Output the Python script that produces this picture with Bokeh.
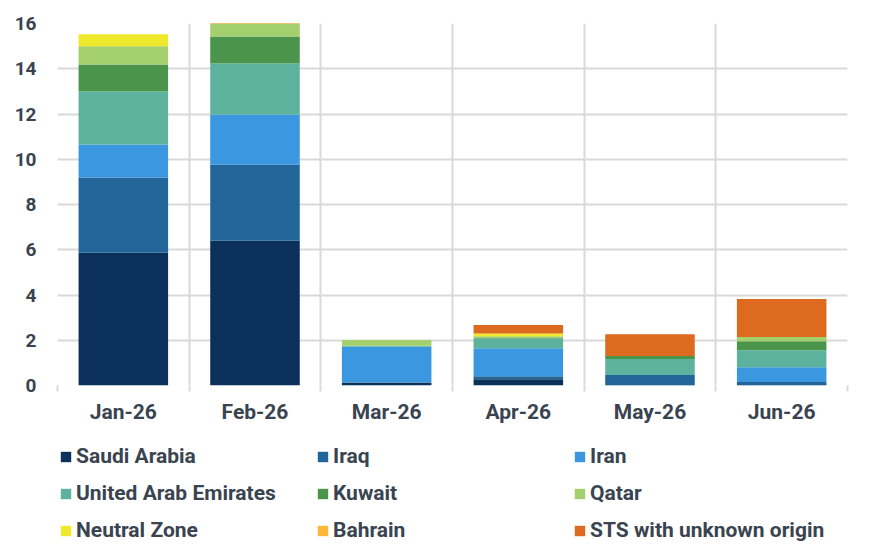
from bokeh.plotting import figure
from bokeh.layouts import column
from bokeh.models import (Range1d, LinearAxis, FixedTicker, Legend, LegendItem,
                          ColumnDataSource)
from bokeh.embed import file_html
from bokeh.resources import INLINE

months = ["Jan-26", "Feb-26", "Mar-26", "Apr-26", "May-26", "Jun-26"]

saudi_arabia = [5.87, 6.40, 0.12, 0.28, 0.02, 0.02]
iraq = [3.32, 3.36, 0.02, 0.13, 0.44, 0.13]
iran = [1.46, 2.22, 1.57, 1.24, 0.00, 0.66]
uae = [2.34, 2.25, 0.05, 0.43, 0.71, 0.75]
kuwait = [1.20, 1.20, 0.00, 0.02, 0.13, 0.40]
qatar = [0.80, 0.60, 0.25, 0.08, 0.00, 0.18]
neutral_zone = [0.53, 0.00, 0.00, 0.12, 0.00, 0.00]
bahrain = [0.00, 0.00, 0.00, 0.00, 0.00, 0.00]
sts_unknown = [0.00, 0.00, 0.00, 0.37, 0.97, 1.68]

series_names = ["Saudi Arabia", "Iraq", "Iran", "United Arab Emirates", "Kuwait",
                "Qatar", "Neutral Zone", "Bahrain", "STS with unknown origin"]
series_values = [saudi_arabia, iraq, iran, uae, kuwait, qatar, neutral_zone,
                 bahrain, sts_unknown]
colors = ["#0b3059", "#226699", "#3b97e0", "#5db29e", "#4b944b",
          "#a3cf6c", "#efe82b", "#fdb83c", "#de6a1f"]

y_ticks = [0, 2, 4, 6, 8, 10, 12, 14, 16]

TEXT = "#3a4350"
GRID = "#d9d9d9"
FONT = "Roboto"

keys = [f"s{i}" for i in range(len(series_names))]
data = {"x": [i + 0.5 for i in range(len(months))]}
for k, v in zip(keys, series_values):
    data[k] = v
source = ColumnDataSource(data)
boundaries = list(range(len(months) + 1))

# ---- stacked bar chart ----
p = figure(width=870, height=440, frame_width=790, frame_height=362,
           output_backend="svg", toolbar_location=None,
           x_range=Range1d(0, len(months)), y_range=Range1d(0, 16),
           x_axis_location=None, y_axis_location="left",
           min_border_left=57, min_border_right=23, min_border_top=23,
           min_border_bottom=55, outline_line_color=None)
p.background_fill_color = "white"
p.border_fill_color = "white"

p.vbar_stack(keys, x="x", width=0.68, source=source, color=colors, line_color=None)

# grid: horizontal at value ticks, vertical at month boundaries
p.ygrid.ticker = FixedTicker(ticks=y_ticks)
p.ygrid.grid_line_color = GRID
p.ygrid.grid_line_width = 2
p.xgrid.ticker = FixedTicker(ticks=boundaries)
p.xgrid.grid_line_color = GRID
p.xgrid.grid_line_width = 2

yax = p.yaxis[0]
yax.ticker = FixedTicker(ticks=y_ticks)
yax.axis_line_color = None
yax.major_tick_line_color = None
yax.minor_tick_line_color = None
yax.major_label_text_font = FONT
yax.major_label_text_font_style = "bold"
yax.major_label_text_font_size = "19px"
yax.major_label_text_color = TEXT
yax.major_label_standoff = 15

# month labels at bar centres, short boundary ticks as minor ticks
xax = LinearAxis(ticker=FixedTicker(ticks=data["x"], minor_ticks=boundaries),
                 major_label_overrides={x: m for x, m in zip(data["x"], months)},
                 axis_line_color=None, major_tick_line_color=None,
                 minor_tick_in=0, minor_tick_out=6,
                 minor_tick_line_color=GRID, minor_tick_line_width=2,
                 major_label_text_font=FONT, major_label_text_font_style="bold",
                 major_label_text_font_size="21px",
                 major_label_text_color=TEXT, major_label_standoff=8)
p.add_layout(xax, "below")

# ---- legend strip ----
# same stacked series, with ranges far from the data so nothing but the
# legend swatches is drawn
lg = figure(width=870, height=119, output_backend="svg", toolbar_location=None,
            x_range=Range1d(100, 101), y_range=Range1d(100, 101),
            min_border=0, outline_line_color=None)
lg.axis.visible = False
lg.grid.visible = False
lg.border_fill_color = "white"

swatches = lg.vbar_stack(keys, x="x", width=0.68, source=source,
                         color=colors, line_color=None)
legend = Legend(items=[LegendItem(label=n, renderers=[r])
                       for n, r in zip(series_names, swatches)],
                ncols=3, orientation="horizontal", location=(2, 17),
                glyph_width=13, glyph_height=13, label_standoff=4,
                label_width=227, label_height=22, spacing=13,
                label_text_font=FONT, label_text_font_style="bold",
                label_text_font_size="21px", label_text_color=TEXT,
                border_line_color=None, background_fill_alpha=0,
                padding=0, margin=0)
lg.add_layout(legend, "center")

open("out.html", "w").write(file_html(column(p, lg, spacing=0), INLINE))
